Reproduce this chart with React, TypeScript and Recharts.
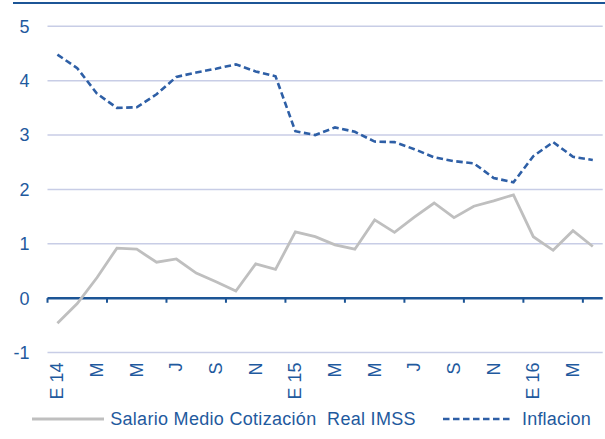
import React from 'react';
import { LineChart, Line, XAxis, YAxis, CartesianGrid, ReferenceLine, Legend } from 'recharts';

const categories = [
  'Ene 14', 'Feb 14', 'Mar 14', 'Abr 14', 'May 14', 'Jun 14', 'Jul 14', 'Ago 14', 'Sep 14', 'Oct 14', 'Nov 14', 'Dic 14',
  'Ene 15', 'Feb 15', 'Mar 15', 'Abr 15', 'May 15', 'Jun 15', 'Jul 15', 'Ago 15', 'Sep 15', 'Oct 15', 'Nov 15', 'Dic 15',
  'Ene 16', 'Feb 16', 'Mar 16', 'Abr 16',
];

const salario = [
  -0.46, -0.1, 0.38, 0.92, 0.9, 0.66, 0.72, 0.46, 0.3, 0.13, 0.63, 0.53,
  1.22, 1.13, 0.98, 0.9, 1.44, 1.21, 1.49, 1.75, 1.48, 1.69, 1.79, 1.9,
  1.13, 0.88, 1.24, 0.95,
];

const inflacion = [
  4.48, 4.23, 3.76, 3.5, 3.51, 3.75, 4.07, 4.15, 4.22, 4.3, 4.17, 4.08,
  3.07, 3.0, 3.14, 3.06, 2.88, 2.87, 2.74, 2.59, 2.52, 2.48, 2.21, 2.13,
  2.61, 2.87, 2.6, 2.54,
];

const tickLabels = ['E 14', 'M', 'M', 'J', 'S', 'N', 'E 15', 'M', 'M', 'J', 'S', 'N', 'E 16', 'M'];
const yTicks = [-1, 0, 1, 2, 3, 4, 5];

const data = categories.map((c, i) => ({ name: c, x: i + 0.5, salario: salario[i], inflacion: inflacion[i] }));
const labelPositions = tickLabels.map((_, i) => i * 2 + 0.5);
const tickMarkPositions = categories.map((_, i) => i).filter((i) => i % 3 === 0);

const BLUE_TEXT = '#1F5A9E';
const AXIS_BLUE = '#1C5596';
const GRID = '#C8CDE6';
const GRAY = '#BFBFBF';
const DASH_BLUE = '#2E5FA6';
const FONT = '"Liberation Sans", Arial, sans-serif';

const XTick = (props: any) => {
  const { x, y, payload } = props;
  const idx = Math.round((payload.value - 0.5) / 2);
  return (
    <text
      x={0}
      y={0}
      transform={`translate(${x},${y}) rotate(-90)`}
      textAnchor="end"
      dominantBaseline="central"
      fill={BLUE_TEXT}
      fontSize={18}
      fontFamily={FONT}
    >
      {tickLabels[idx]}
    </text>
  );
};

const renderLegend = () => (
  <div style={{ position: 'relative', width: 605, height: 24, fontFamily: FONT, fontSize: 18, color: BLUE_TEXT }}>
    <div style={{ position: 'absolute', left: 31.7, top: 0, height: 24, display: 'flex', alignItems: 'center' }}>
      <svg width={72} height={6} style={{ display: 'block' }}>
        <line x1={0} y1={3} x2={72} y2={3} stroke={GRAY} strokeWidth={3} />
      </svg>
      <span style={{ marginLeft: 6.5, whiteSpace: 'pre', letterSpacing: 0.3 }}>Salario Medio Cotización  Real IMSS</span>
    </div>
    <div style={{ position: 'absolute', left: 443, top: 0, height: 24, display: 'flex', alignItems: 'center' }}>
      <svg width={70} height={6} style={{ display: 'block' }}>
        <line x1={0} y1={3} x2={70} y2={3} stroke={DASH_BLUE} strokeWidth={2.5} strokeDasharray="6.5 3.5" />
      </svg>
      <span style={{ marginLeft: 9, whiteSpace: 'pre', letterSpacing: 0.2 }}>Inflacion</span>
    </div>
  </div>
);

export default function App() {
  return (
    <div style={{ position: 'absolute', left: 0, top: 0, width: 605, height: 439, background: '#fff', fontFamily: FONT }}>
      <LineChart width={605} height={439} data={data} margin={{ top: 26.3, right: 2.3, left: 0, bottom: 26.5 }}>
        <CartesianGrid horizontal={true} vertical={false} stroke={GRID} strokeWidth={1.5} />
        <XAxis
          dataKey="x"
          type="number"
          domain={[0, 28]}
          ticks={labelPositions}
          interval={0}
          height={60}
          axisLine={false}
          tickLine={false}
          tickSize={0}
          tickMargin={10}
          tick={<XTick />}
        />
        <YAxis
          type="number"
          domain={[-1, 5]}
          ticks={yTicks}
          interval={0}
          width={47.5}
          axisLine={false}
          tickLine={false}
          tickSize={0}
          tickMargin={18}
          tick={{ fill: BLUE_TEXT, fontSize: 18, fontFamily: FONT }}
        />
        <ReferenceLine y={0} stroke={AXIS_BLUE} strokeWidth={2.5} />
        {tickMarkPositions.map((t) => (
          <ReferenceLine
            key={t}
            segment={[{ x: t, y: 0 }, { x: t, y: -0.085 }]}
            stroke={AXIS_BLUE}
            strokeWidth={2}
          />
        ))}
        <Line
          type="linear"
          dataKey="salario"
          name="Salario Medio Cotización  Real IMSS"
          stroke={GRAY}
          strokeWidth={2.8}
          dot={false}
          isAnimationActive={false}
        />
        <Line
          type="linear"
          dataKey="inflacion"
          name="Inflacion"
          stroke={DASH_BLUE}
          strokeWidth={2.6}
          strokeDasharray="6.5 3.5"
          dot={false}
          isAnimationActive={false}
        />
        <Legend
          verticalAlign="middle"
          align="center"
          layout="horizontal"
          wrapperStyle={{ top: 407, left: 0, width: 605, height: 24 }}
          content={renderLegend}
        />
      </LineChart>
      <div
        style={{
          position: 'absolute',
          left: 13,
          top: 2,
          width: 592,
          height: 2,
          background: AXIS_BLUE,
          zIndex: 5,
          pointerEvents: 'none',
        }}
      />
    </div>
  );
}
